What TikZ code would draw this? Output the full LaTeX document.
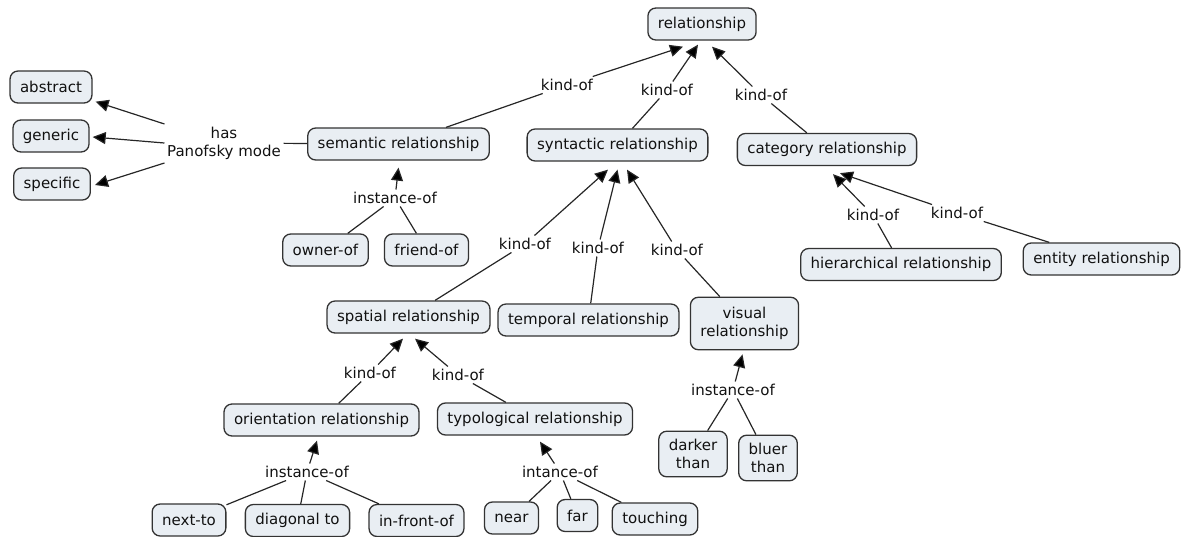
\documentclass[tikz,border=0pt]{standalone}
\usepackage{fontspec}
\setmainfont{DejaVu Sans}
\usetikzlibrary{arrows.meta}
\definecolor{conceptfill}{HTML}{E9EEF3}
\definecolor{conceptline}{HTML}{333333}
\definecolor{inktext}{HTML}{111111}

\begin{document}
\begin{tikzpicture}[x=1pt,y=-1pt,
  concept/.style={draw=conceptline, line width=1.3pt, fill=conceptfill,
    rounded corners=8pt, inner xsep=10pt, inner ysep=0pt,
    minimum height=32pt, text=inktext, align=center,
    font=\fontsize{15}{18}\selectfont},
  twoline/.style={inner ysep=8pt},
  linkword/.style={inner sep=2.5pt, text=inktext, align=center,
    font=\fontsize{15}{18}\selectfont},
  link/.style={line width=1.2pt, draw=black!85},
  arr/.style={link, -{Triangle[length=13pt,width=12pt,fill=black]}},
]
\useasboundingbox (0,0) rectangle (1188,536);

% concepts
\node[concept] (rel) at (702,24) {relationship};
\node[concept] (abstract) at (51,87) {abstract};
\node[concept] (generic) at (51,136) {generic};
\node[concept] (specific) at (52,184) {specific};
\node[concept] (sem) at (398.5,144) {semantic relationship};
\node[concept] (syn) at (617.5,145) {syntactic relationship};
\node[concept] (cat) at (827,149.5) {category relationship};
\node[concept] (owner) at (325.5,250) {owner-of};
\node[concept] (friend) at (426.5,250) {friend-of};
\node[concept] (hier) at (901,264.5) {hierarchical relationship};
\node[concept] (entity) at (1101.5,259) {entity relationship};
\node[concept] (spatial) at (408.5,317) {spatial relationship};
\node[concept] (temporal) at (588.5,320) {temporal relationship};
\node[concept,twoline,inner ysep=10pt] (visual) at (744.5,323.5) {visual\\relationship};
\node[concept] (orient) at (321.5,420) {orientation relationship};
\node[concept] (typo) at (535,419) {typological relationship};
\node[concept,twoline] (darker) at (693,454) {darker\\than};
\node[concept,twoline] (bluer) at (768,458) {bluer\\than};
\node[concept] (nextto) at (189,520) {next-to};
\node[concept] (diag) at (297.5,520.5) {diagonal to};
\node[concept] (front) at (416.5,520.5) {in-front-of};
\node[concept] (near) at (511.5,518) {near};
\node[concept] (far) at (577.5,515.5) {far};
\node[concept] (touch) at (655,519) {touching};

% linking phrases
\node[linkword] (k1) at (567,85) {kind-of};
\node[linkword] (k2) at (667,90) {kind-of};
\node[linkword] (k3) at (761,95) {kind-of};
\node[linkword] (hpm) at (224,143) {has\\Panofsky mode};
\node[linkword] (i1) at (395,198) {instance-of};
\node[linkword] (k4) at (525,244) {kind-of};
\node[linkword] (k5) at (598,248) {kind-of};
\node[linkword] (k6) at (677,250) {kind-of};
\node[linkword] (k7) at (873,215) {kind-of};
\node[linkword] (k8) at (957,213) {kind-of};
\node[linkword] (k9) at (370,373) {kind-of};
\node[linkword] (k10) at (458,375) {kind-of};
\node[linkword] (i2) at (733,390) {instance-of};
\node[linkword] (i3) at (307,472) {instance-of};
\node[linkword] (i4) at (560,472) {intance-of};

% top level
\draw[link] (sem) -- (k1);
\draw[arr] (k1) -- ([xshift=-19pt,yshift=-6pt]rel.south);
\draw[link] (syn) -- (k2);
\draw[arr] (k2) -- ([xshift=-4pt,yshift=-4pt]rel.south);
\draw[link] (cat) -- (k3);
\draw[arr] (k3) -- ([xshift=10pt,yshift=-6pt]rel.south);

% Panofsky modes
\draw[link] (sem) -- (hpm);
\draw[arr] ([yshift=19pt]hpm.west) -- ([xshift=3pt,yshift=2pt]abstract.south east);
\draw[arr] (hpm.west) -- ([xshift=3pt,yshift=-1pt]generic.east);
\draw[arr] ([yshift=-20pt]hpm.west) -- ([xshift=4pt,yshift=-1pt]specific.east);

% semantic instances
\draw[link] (owner) -- (i1);
\draw[link] (friend) -- (i1);
\draw[arr] (i1) -- ([yshift=-7pt]sem.south);

% syntactic kinds
\draw[link] (spatial) -- (k4);
\draw[arr] (k4) -- ([xshift=-9.5pt,yshift=-8pt]syn.south);
\draw[link] (temporal) -- (k5);
\draw[arr] (k5) -- ([yshift=-8pt]syn.south);
\draw[link] (visual) -- (k6);
\draw[arr] (k6) -- ([xshift=9.5pt,yshift=-8pt]syn.south);

% category kinds
\draw[link] (hier) -- (k7);
\draw[arr] (k7) -- ([xshift=6pt,yshift=-8pt]cat.south);
\draw[link] (entity) -- (k8);
\draw[arr] (k8) -- ([xshift=13pt,yshift=-7pt]cat.south);

% spatial kinds
\draw[link] (orient) -- (k9);
\draw[arr] (k9) -- ([xshift=-5.5pt,yshift=-5pt]spatial.south);
\draw[link] (typo) -- (k10);
\draw[arr] (k10) -- ([xshift=6.5pt,yshift=-5pt]spatial.south);

% visual instances
\draw[link] (darker) -- (i2);
\draw[link] (bluer) -- (i2);
\draw[arr] (i2) -- ([xshift=-2pt,yshift=-4pt]visual.south);

% orientation instances
\draw[link] (nextto) -- (i3);
\draw[link] (diag) -- (i3);
\draw[link] (front) -- (i3);
\draw[arr] (i3) -- ([xshift=-4.5pt,yshift=-4pt]orient.south);

% typological instances
\draw[link] (near) -- (i4);
\draw[link] (far) -- (i4);
\draw[link] (touch) -- (i4);
\draw[arr] (i4) -- ([xshift=5pt,yshift=-6pt]typo.south);
\end{tikzpicture}
\end{document}
